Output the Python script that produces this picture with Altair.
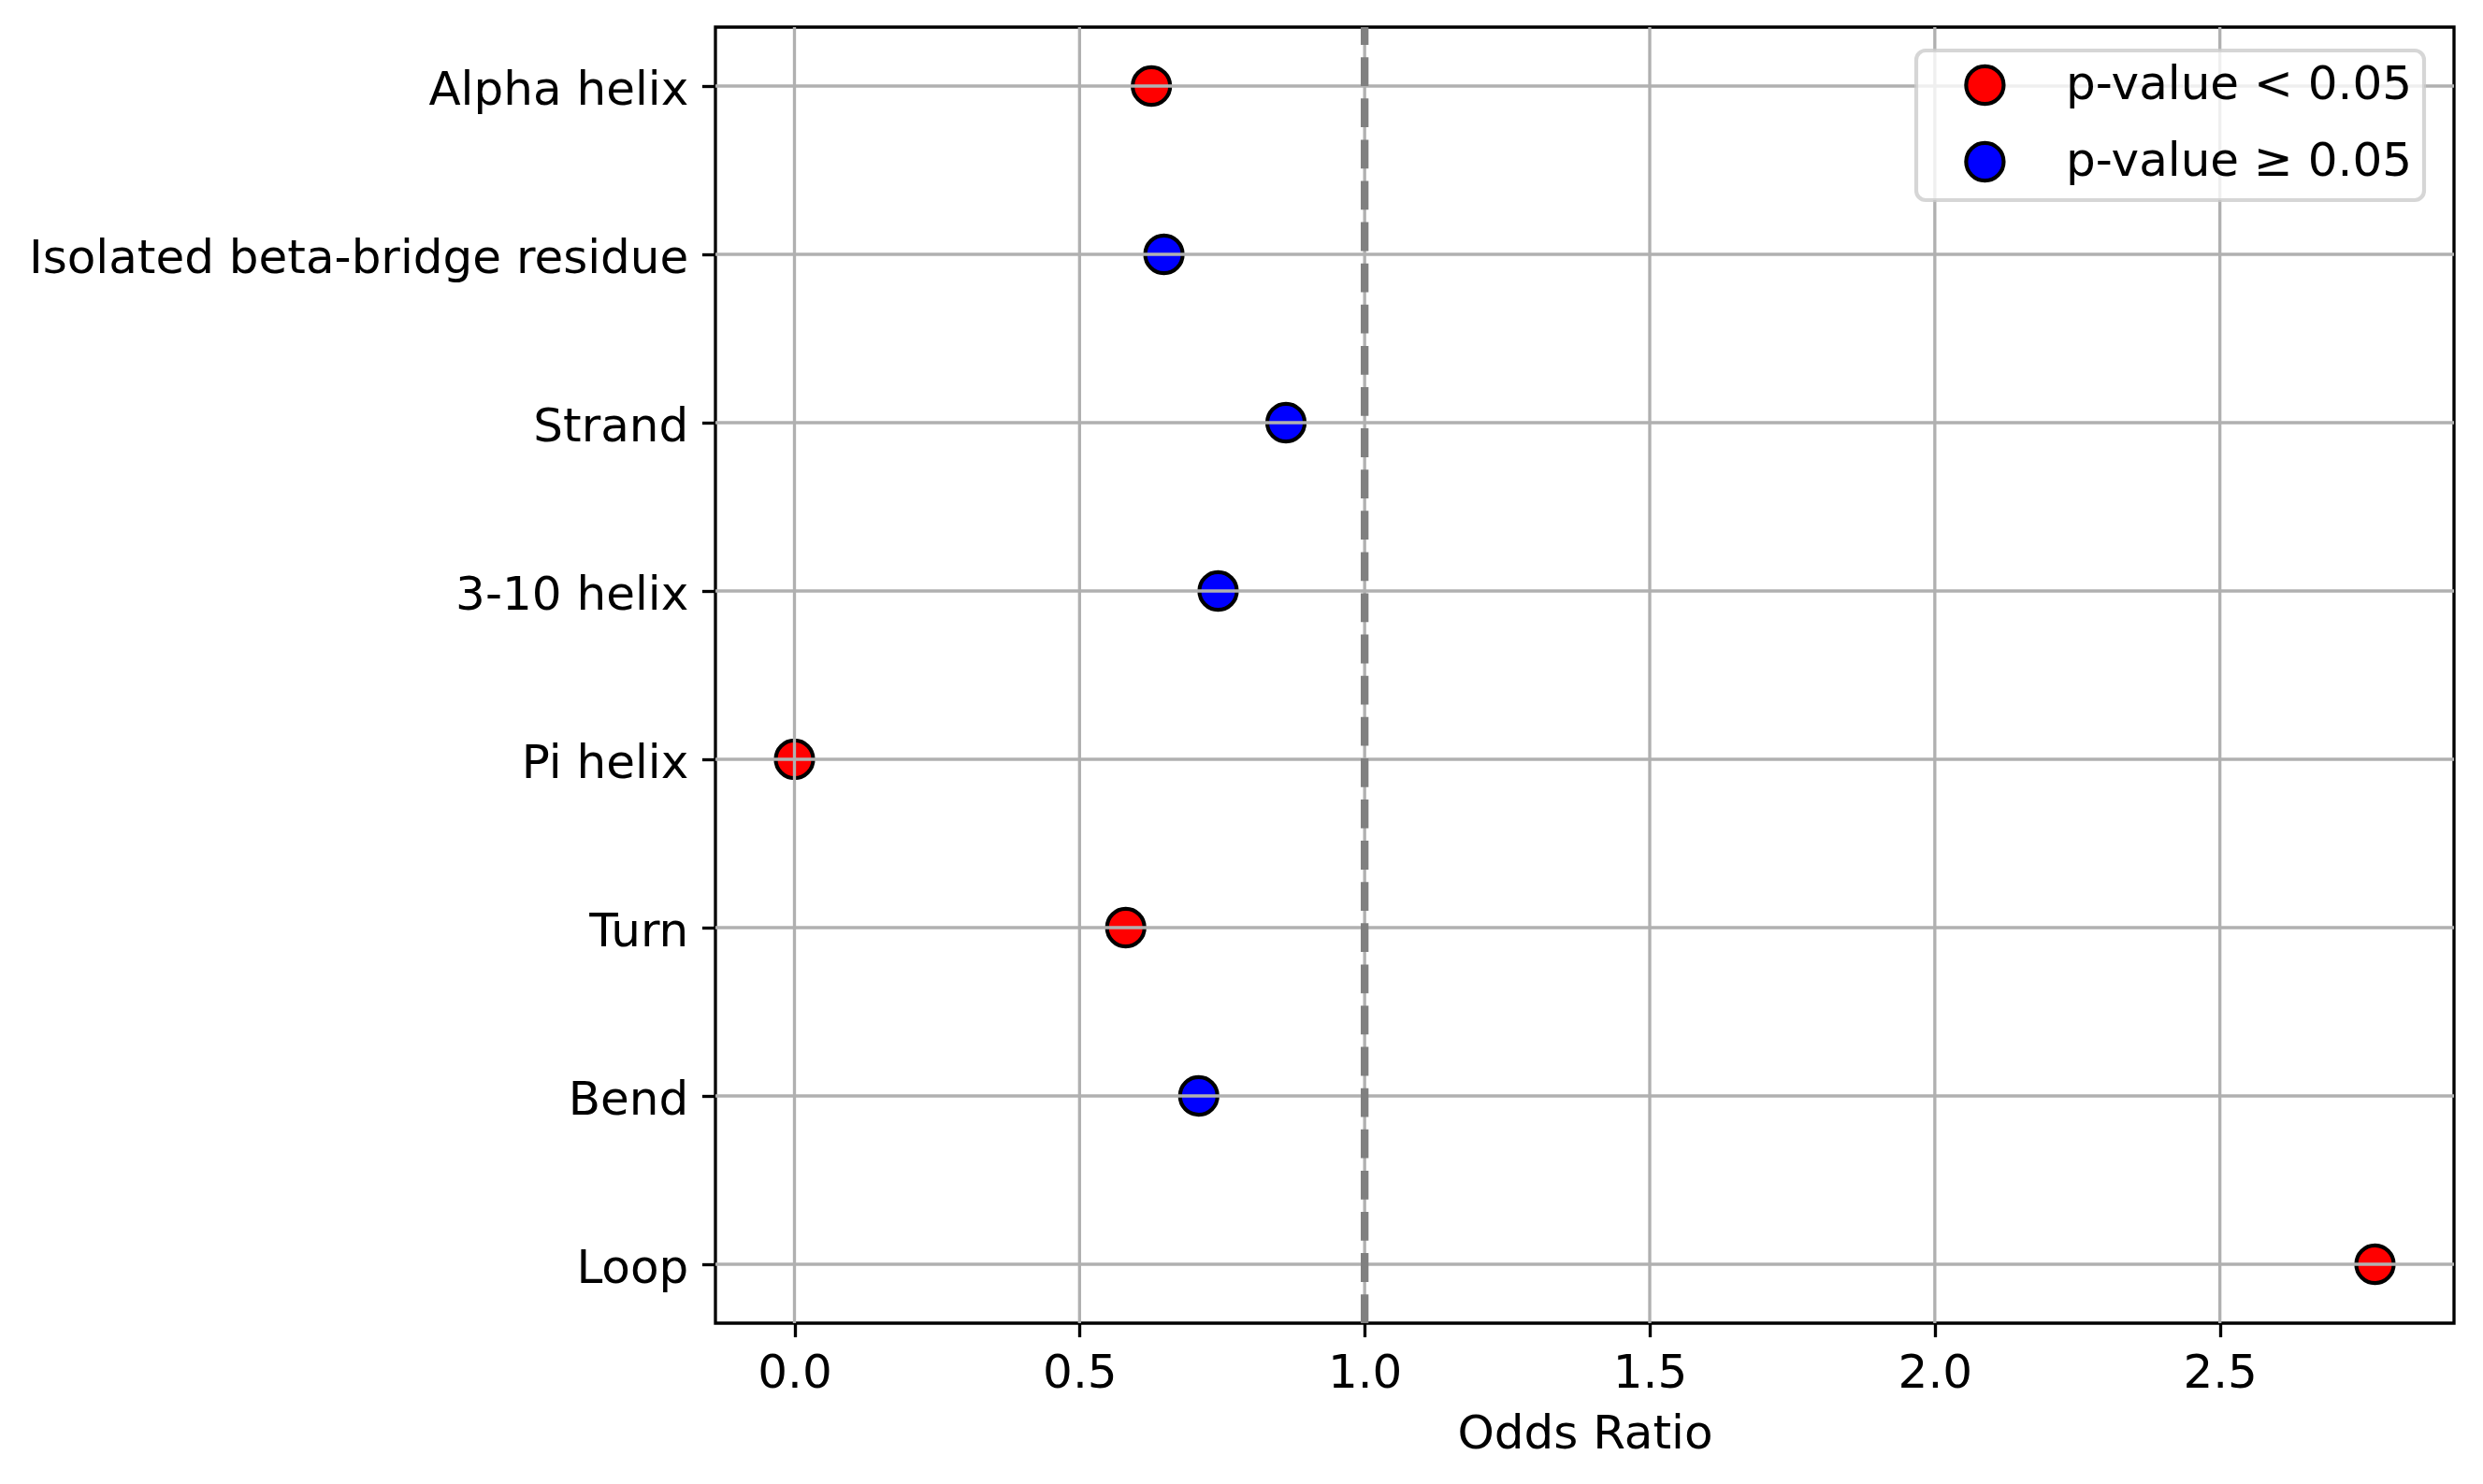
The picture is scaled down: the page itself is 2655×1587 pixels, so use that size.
import altair as alt
import pandas as pd

# ---- data ----
categories = ["Alpha helix", "Isolated beta-bridge residue", "Strand", "3-10 helix",
              "Pi helix", "Turn", "Bend", "Loop"]
odds_ratios = [0.626, 0.648, 0.862, 0.743, 0.0, 0.581, 0.709, 2.772]
significance = ["p-value < 0.05", "p-value ≥ 0.05", "p-value ≥ 0.05", "p-value ≥ 0.05",
                "p-value < 0.05", "p-value < 0.05", "p-value ≥ 0.05", "p-value < 0.05"]
legend_labels = ["p-value < 0.05", "p-value ≥ 0.05"]
legend_colors = ["#ff0000", "#0000ff"]
x_ticks = [0.0, 0.5, 1.0, 1.5, 2.0, 2.5]
reference_value = [1.0]

FONT = "DejaVu Sans"
FS = 50
LW = 3.33  # 0.8pt at 300 dpi

df = pd.DataFrame({"category": categories, "odds": odds_ratios, "sig": significance})
lo, hi = min(odds_ratios), max(odds_ratios)
pad = 0.05 * (hi - lo)
xscale = alt.Scale(domain=[lo - pad, hi + pad], nice=False, zero=False)
yscale = alt.Scale(type="point", domain=categories, padding=0.35)

xaxis = alt.Axis(values=x_ticks, format=".1f", title="Odds Ratio", grid=False, domain=False,
                 tickSize=14.6, tickWidth=LW, tickColor="black",
                 labelFont=FONT, labelFontSize=FS, labelColor="black",
                 labelBaseline="alphabetic", labelPadding=53.7, labelFlush=False,
                 labelOverlap=False,
                 titleFont=FONT, titleFontSize=FS, titleFontWeight="normal",
                 titleColor="black", titleBaseline="alphabetic", titleY=133)
yaxis = alt.Axis(title=None, grid=False, domain=False,
                 tickSize=14.6, tickWidth=LW, tickColor="black",
                 labelFont=FONT, labelFontSize=FS, labelColor="black",
                 labelBaseline="alphabetic", labelOffset=19.5, labelPadding=14.6,
                 labelOverlap=False, labelLimit=2000)

points = alt.Chart(df).mark_circle(size=1610, opacity=1, stroke="black",
                                   strokeWidth=4.17).encode(
    x=alt.X("odds:Q", scale=xscale, axis=xaxis),
    y=alt.Y("category:N", scale=yscale, axis=yaxis),
    color=alt.Color("sig:N", scale=alt.Scale(domain=legend_labels, range=legend_colors),
                    legend=alt.Legend(title=None, orient="none", legendX=1284, legendY=25,
                                      labelFont=FONT, labelFontSize=FS, labelColor="black",
                                      labelLimit=2000,
                                      symbolType="circle", symbolSize=1610,
                                      symbolStrokeWidth=4.17, symbolStrokeColor="black",
                                      symbolOpacity=1,
                                      fillColor="rgba(255,255,255,0.8)",
                                      strokeColor="rgba(204,204,204,0.8)",
                                      cornerRadius=10, padding=12, rowPadding=24,
                                      symbolOffset=36.4, labelOffset=61.7)),
)

vgrid = alt.Chart(pd.DataFrame({"odds": x_ticks})).mark_rule(
    color="#b0b0b0", strokeWidth=LW).encode(x=alt.X("odds:Q", scale=xscale, axis=xaxis))

hgrid = alt.Chart(pd.DataFrame({"category": categories})).mark_rule(
    color="#b0b0b0", strokeWidth=LW).encode(y=alt.Y("category:N", scale=yscale, axis=yaxis))

ref = alt.Chart(pd.DataFrame({"odds": reference_value})).mark_rule(
    color="#808080", strokeWidth=8.33, strokeDash=[30.8, 13.3], strokeDashOffset=11.9
).encode(x=alt.X("odds:Q", scale=xscale, axis=xaxis))

chart = alt.layer(points, vgrid, hgrid, ref).properties(
    width=1859, height=1386,
    autosize=alt.AutoSizeParams(type="none"),
    padding={"left": 757, "top": 21, "right": 23, "bottom": 164},
    background="white",
).configure_view(stroke="black", strokeWidth=LW).configure_legend(strokeWidth=4.17)

chart.save("out.html", embed_options={"renderer": "svg", "actions": False})
